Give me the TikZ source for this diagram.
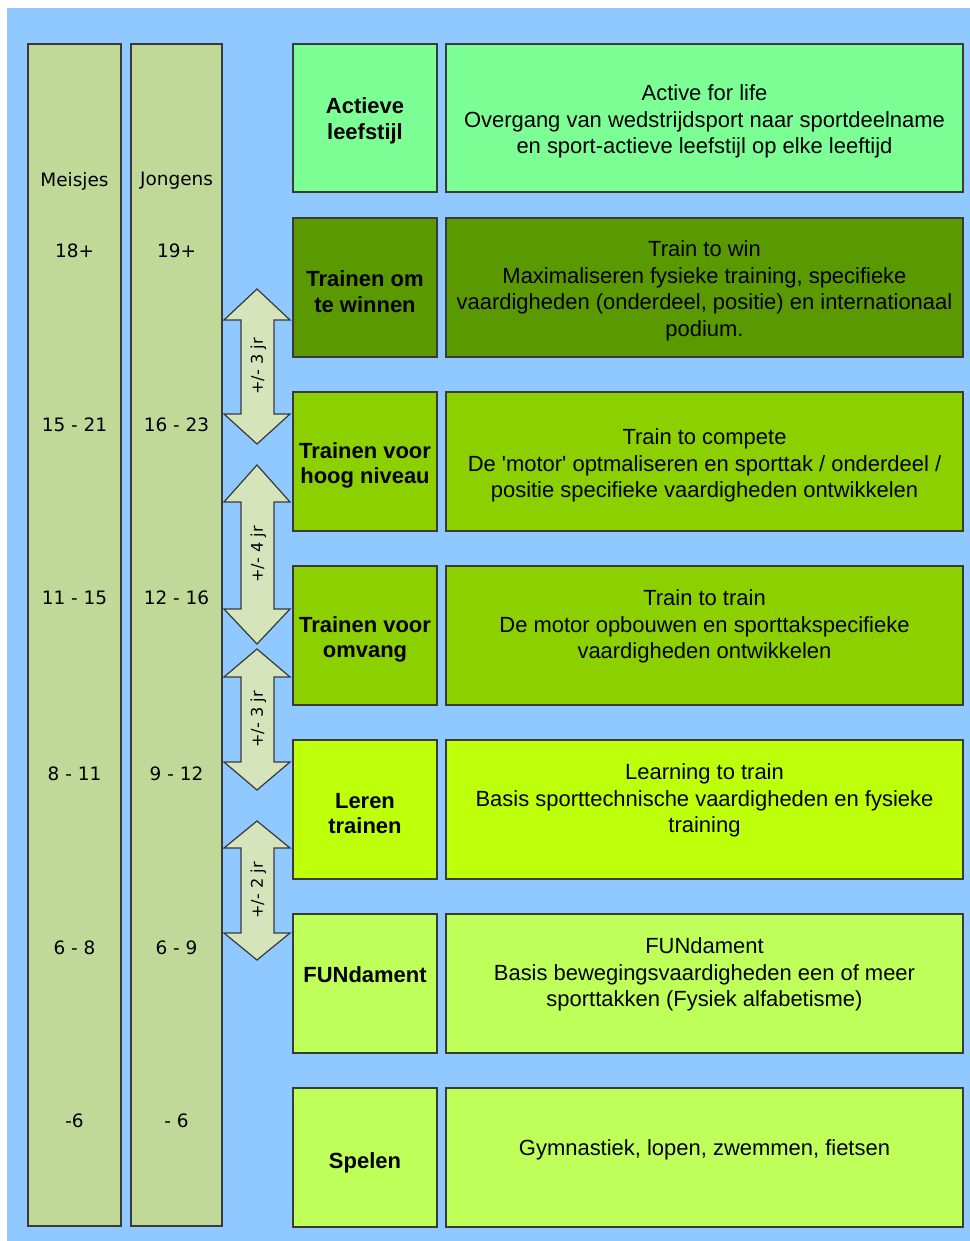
\documentclass[tikz,border=0pt]{standalone}
\usepackage{fontspec}
\setmainfont{Liberation Sans}
\newfontfamily\colfont{DejaVu Sans}
\definecolor{skyblue}{HTML}{8FC9FF}
\definecolor{colgreen}{HTML}{C0D898}
\definecolor{arrowgreen}{HTML}{D6E4BC}
\definecolor{lifegreen}{HTML}{7CFF94}
\definecolor{wingreen}{HTML}{5A9A00}
\definecolor{trainlime}{HTML}{8CD000}
\definecolor{learnlime}{HTML}{BEFF0A}
\definecolor{basislime}{HTML}{BEFF5A}
\definecolor{edgegray}{HTML}{3A3A3A}
\begin{document}
\begin{tikzpicture}[x=0.02cm, y=-0.02cm, line width=0.7pt]
\useasboundingbox (0, 0) rectangle (970, 1241);
\fill [color=skyblue] (7, 8) rectangle (970, 1241);

% leeftijdskolommen
\filldraw [fill=colgreen, draw=edgegray] (28, 44) rectangle (121, 1226);
\filldraw [fill=colgreen, draw=edgegray] (131, 44) rectangle (222, 1226);
\node (meisjes) at (74.5, 181) [font=\colfont\fontsize{10.5pt}{12pt}\selectfont] {Meisjes};
\node (jongens) at (176.5, 181) [font=\colfont\fontsize{10.5pt}{12pt}\selectfont] {Jongens};
\newcommand\ages[4]{%
\node (m#1) at (74.5, #2+1) [font=\colfont\fontsize{10.5pt}{12pt}\selectfont] {#3};%
\node (j#1) at (176.5, #2+1) [font=\colfont\fontsize{10.5pt}{12pt}\selectfont] {#4};%
}
\ages{a}{250}{18+}{19+}
\ages{b}{424}{15 - 21}{16 - 23}
\ages{c}{597}{11 - 15}{12 - 16}
\ages{d}{773}{8 - 11}{9 - 12}
\ages{e}{947}{6 - 8}{6 - 9}
\ages{f}{1120}{-6}{- 6}

% fases
\newcommand\stage[7]{%
\filldraw [fill=#3, draw=edgegray] (293, #2) rectangle (437, #2+139);%
\filldraw [fill=#3, draw=edgegray] (446, #2) rectangle (963, #2+139);%
\node (#1l) at (365, #4+2.5) [align=center,font=\bfseries\fontsize{12.5pt}{14.6pt}\selectfont] {#5};%
\node (#1r) at (704.5, #6+2.5) [align=center,font=\fontsize{12.5pt}{15.1pt}\selectfont] {#7};%
}
\filldraw [fill=lifegreen, draw=edgegray] (293, 44) rectangle (437, 192);
\filldraw [fill=lifegreen, draw=edgegray] (446, 44) rectangle (963, 192);
\node (lifel) at (365, 121) [align=center,font=\bfseries\fontsize{12.5pt}{14.6pt}\selectfont] {Actieve\\leefstijl};
\node (lifer) at (704.5, 121.5) [align=center,font=\fontsize{12.5pt}{15.1pt}\selectfont] {Active for life\\Overgang van wedstrijdsport naar sportdeelname\\en sport-actieve leefstijl op elke leeftijd};
\stage{win}{218}{wingreen}{289}{Trainen om\\te winnen}{288.5}{Train to win\\Maximaliseren fysieke training, specifieke\\vaardigheden (onderdeel, positie) en internationaal\\podium.}
\stage{compete}{392}{trainlime}{463}{Trainen voor\\hoog niveau}{463}{Train to compete\\De \textquotesingle motor\textquotesingle\ optmaliseren en sporttak / onderdeel /\\positie specifieke vaardigheden ontwikkelen}
\stage{train}{566}{trainlime}{637}{Trainen voor\\omvang}{624}{Train to train\\De motor opbouwen en sporttakspecifieke\\vaardigheden ontwikkelen}
\stage{learn}{740}{learnlime}{811}{Leren\\trainen}{798}{Learning to train\\Basis sporttechnische vaardigheden en fysieke\\training}
\stage{fun}{914}{basislime}{972}{FUNdament}{972}{FUNdament\\Basis bewegingsvaardigheden een of meer\\sporttakken (Fysiek alfabetisme)}
\stage{play}{1088}{basislime}{1160}{Spelen}{1147}{Gymnastiek, lopen, zwemmen, fietsen}

% overgangspijlen
\newcommand\agearrow[6]{%
\filldraw [fill=arrowgreen, draw=edgegray] (257, #2) -- (290, #3) -- (274, #3) -- (274, #4) -- (290, #4) -- (257, #5) -- (224, #4) -- (241, #4) -- (241, #3) -- (224, #3) -- cycle;%
\node (#1) at (258.5, #2/2+#5/2) [rotate=90,font=\colfont\fontsize{9.2pt}{11pt}\selectfont] {#6};%
}
\agearrow{span1}{289}{320}{414}{444}{+/- 3 jr}
\agearrow{span2}{465}{502}{609}{644}{+/- 4 jr}
\agearrow{span3}{649}{677}{762}{790}{+/- 3 jr}
\agearrow{span4}{821}{848}{933}{960}{+/- 2 jr}
\end{tikzpicture}
\end{document}
